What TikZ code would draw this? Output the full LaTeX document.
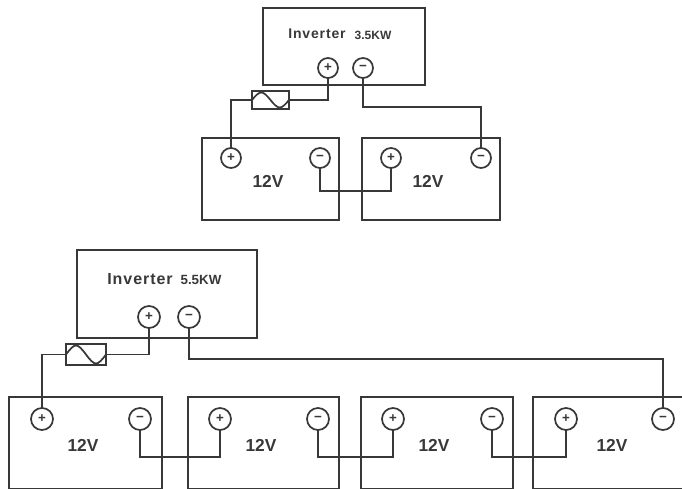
\documentclass[tikz,border=0pt]{standalone}
\usepackage{fontspec}
\setmainfont{Liberation Sans}
\newfontfamily\spaced[LetterSpace=6]{Liberation Sans}
\definecolor{ink}{HTML}{383838}
\tikzset{
  x=0.75pt,y=-0.75pt,
  box/.style={draw=ink,line width=1.4pt,rectangle,inner sep=0pt,outer sep=0pt,anchor=north west},
  term/.style={draw=ink,circle,inner sep=0pt,outer sep=0pt,fill=white,text=ink,font=\bfseries\fontsize{10}{10}\selectfont,line width=1.3pt},
  smallterm/.style={term,minimum size=15pt},
  bigterm/.style={term,minimum size=16.5pt},
  volt/.style={text=ink,font=\bfseries\fontsize{13}{13}\selectfont,inner sep=0pt},
  invsmall/.style={text=ink,font=\spaced\bfseries\fontsize{10.5}{11}\selectfont,inner sep=0pt},
  invbig/.style={text=ink,font=\spaced\bfseries\fontsize{12}{12}\selectfont,inner sep=0pt},
  kwsmall/.style={text=ink,font=\bfseries\fontsize{9}{9}\selectfont,inner sep=0pt},
  kwbig/.style={text=ink,font=\bfseries\fontsize{10}{10}\selectfont,inner sep=0pt},
  wire/.style={draw=ink,line width=1.4pt,line join=miter},
  wave/.style={draw=ink,line width=1.3pt}
}
\newcommand{\boxat}[5]{\node[box,minimum width=#4*0.75pt,minimum height=#5*0.75pt] (#1) at (#2,#3) {};}
\begin{document}
\begin{tikzpicture}
\useasboundingbox (0,0) rectangle (682,489);
% --- top group
\boxat{invA}{263}{8}{162}{77}
\node[invsmall] (invAt) at (317,34) {Inverter};
\node[kwsmall] (invAk) at (373,35) {3.5KW};
\boxat{batA}{202}{138}{137}{82}
\boxat{batB}{362}{138}{138}{82}
\node[volt] (vA) at (268,181) {12V};
\node[volt] (vB) at (428,181) {12V};
\boxat{fuseA}{252}{91}{37}{18}
\coordinate (fuseAw) at (fuseA.west);
\coordinate (fuseAe) at (fuseA.east);
\node[smallterm] (ipA) at (328,68) {+};
\node[smallterm] (imA) at (363,68) {−};
\node[smallterm] (apA) at (231,158) {+};
\node[smallterm] (amA) at (320,158) {−};
\node[smallterm] (bpA) at (391,158) {+};
\node[smallterm] (bmA) at (481,158) {−};
\draw[wire] (ipA.south) |- (fuseAe);
\draw[wire] (fuseAw) -| (apA.north);
\draw[wire] (imA.south) |- (bmA.north |- 0,107) -- (bmA.north);
\draw[wire] (amA.south) |- (bpA.south |- 0,191) -- (bpA.south);
\draw[wave] (fuseAw) .. controls +(8,-10) and +(-8,-10) .. (fuseA.center) .. controls +(8,10) and +(-8,10) .. (fuseAe);
% --- bottom group
\boxat{invB}{77}{250}{180}{88}
\node[invbig] (invBt) at (140,279) {Inverter};
\node[kwbig] (invBk) at (201,280) {5.5KW};
\boxat{batC}{9}{397}{153}{92}
\boxat{batD}{188}{397}{151}{92}
\boxat{batE}{361}{397}{152}{92}
\boxat{batF}{533}{397}{160}{92}
\node[volt] (vC) at (83,445) {12V};
\node[volt] (vD) at (261,445) {12V};
\node[volt] (vE) at (434,445) {12V};
\node[volt] (vF) at (612,445) {12V};
\boxat{fuseB}{66}{344}{40}{21}
\coordinate (fuseBw) at (fuseB.west);
\coordinate (fuseBe) at (fuseB.east);
\node[bigterm] (ipB) at (149,317) {+};
\node[bigterm] (imB) at (189,317) {−};
\node[bigterm] (cpB) at (42,419) {+};
\node[bigterm] (cmB) at (140,419) {−};
\node[bigterm] (dpB) at (220,419) {+};
\node[bigterm] (dmB) at (318,419) {−};
\node[bigterm] (epB) at (393,419) {+};
\node[bigterm] (emB) at (492,419) {−};
\node[bigterm] (fpB) at (566,419) {+};
\node[bigterm] (fmB) at (663,419) {−};
\draw[wire] (ipB.south) |- (fuseBe);
\draw[wire] (fuseBw) -| (cpB.north);
\draw[wire] (imB.south) |- (fmB.north |- 0,359) -- (fmB.north);
\draw[wire] (cmB.south) |- (dpB.south |- 0,457) -- (dpB.south);
\draw[wire] (dmB.south) |- (epB.south |- 0,457) -- (epB.south);
\draw[wire] (emB.south) |- (fpB.south |- 0,457) -- (fpB.south);
\draw[wave] (fuseBw) .. controls +(9,-12) and +(-9,-12) .. (fuseB.center) .. controls +(9,12) and +(-9,12) .. (fuseBe);
\end{tikzpicture}
\end{document}
